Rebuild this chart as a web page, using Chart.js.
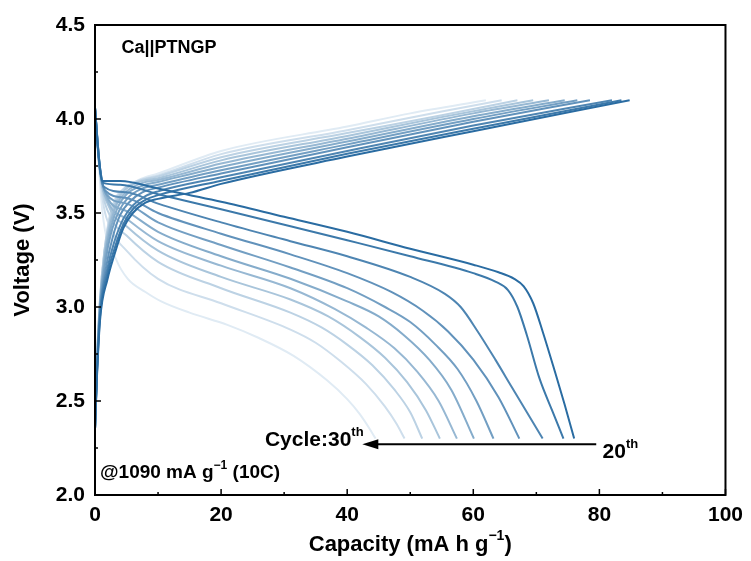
<!DOCTYPE html>
<html><head><meta charset="utf-8">
<script src="https://cdn.jsdelivr.net/npm/chart.js@4/dist/chart.umd.min.js"></script>
<style>html,body{margin:0;padding:0;background:#fff}</style>
</head><body>
<canvas id="c" width="751" height="561"></canvas>
<script>
// ---- data ----
const cycles = ['20th','21st','22nd','23rd','24th','25th','26th','27th','28th','29th','30th'];
const xTicks = [0, 20, 40, 60, 80, 100];
const yTicks = [2.0, 2.5, 3.0, 3.5, 4.0, 4.5];

// charge curves [capacity, voltage]
const chg20 = [[0,2.35],[0.3,2.62],[0.8,2.93],[2,3.15],[3,3.27],[4.5,3.42],[6,3.50],[8,3.555],[10,3.575],[15,3.607],[20,3.655],[40,3.80],[60,3.935],[84.8,4.10]];
const chg21 = [[0,2.35],[0.3,2.63],[0.8,2.95],[2,3.18],[3,3.30],[4.5,3.44],[6,3.52],[8,3.57],[10,3.595],[20,3.672],[40,3.815],[60,3.948],[83.5,4.10]];
const chg22 = [[0,2.35],[0.3,2.64],[0.8,2.97],[2,3.21],[3,3.34],[4.5,3.47],[6,3.54],[8,3.59],[10,3.615],[20,3.69],[40,3.83],[60,3.965],[82,4.10]];
const chg23 = [[0,2.35],[0.3,2.65],[0.8,2.98],[1.8,3.22],[2.8,3.37],[4,3.49],[5.5,3.56],[7.5,3.61],[10,3.635],[20,3.71],[40,3.85],[60,3.985],[78.5,4.10]];
const chg24 = [[0,2.35],[0.3,2.66],[0.8,3.0],[1.7,3.25],[2.6,3.40],[3.8,3.51],[5.2,3.58],[7.5,3.63],[10,3.65],[20,3.727],[40,3.865],[60,4.0],[76.5,4.10]];
const chg25 = [[0,2.35],[0.3,2.67],[0.8,3.01],[1.6,3.27],[2.5,3.42],[3.6,3.53],[5,3.60],[7.5,3.645],[10,3.665],[20,3.745],[40,3.88],[60,4.015],[74.5,4.10]];
const chg26 = [[0,2.35],[0.3,2.68],[0.8,3.02],[1.6,3.29],[2.5,3.45],[3.5,3.55],[5,3.615],[7.5,3.66],[10,3.675],[20,3.763],[40,3.895],[60,4.03],[72,4.10]];
const chg27 = [[0,2.35],[0.3,2.69],[0.8,3.03],[1.5,3.29],[2.4,3.46],[3.4,3.56],[4.8,3.625],[7,3.665],[10,3.685],[20,3.78],[40,3.91],[55,4.01],[69.5,4.10]];
const chg28 = [[0,2.35],[0.3,2.70],[0.8,3.04],[1.5,3.30],[2.4,3.48],[3.4,3.575],[4.8,3.635],[7,3.67],[10,3.695],[20,3.797],[40,3.925],[55,4.02],[67,4.10]];
const chg29 = [[0,2.35],[0.3,2.71],[0.8,3.05],[1.5,3.30],[2.4,3.49],[3.4,3.585],[4.6,3.63],[7,3.675],[10,3.70],[20,3.813],[40,3.94],[55,4.04],[64.5,4.10]];
const chg30 = [[0,2.35],[0.3,2.72],[0.8,3.05],[1.5,3.30],[2.4,3.50],[3.4,3.59],[4.5,3.62],[7,3.677],[10,3.71],[20,3.83],[40,3.96],[50,4.03],[62,4.10]];

// discharge curves [capacity, voltage]
const dis20 = [[0,4.06],[0.6,3.80],[1.2,3.67],[4,3.67],[10,3.63],[20,3.56],[30,3.48],[40,3.40],[50,3.31],[60,3.225],[64,3.185],[66.5,3.15],[68,3.11],[69.5,3.02],[71,2.87],[73,2.65],[74.5,2.48],[76,2.30]];
const dis21 = [[0,4.06],[0.6,3.79],[1.3,3.66],[4,3.65],[10,3.60],[20,3.52],[31,3.43],[40,3.355],[50,3.27],[60,3.18],[63.5,3.135],[65.5,3.09],[67,3.00],[68.5,2.85],[70.5,2.62],[72.5,2.45],[74.3,2.30]];
const dis22 = [[0,4.06],[0.6,3.78],[1.4,3.64],[5,3.61],[10,3.55],[20,3.45],[31,3.35],[40,3.27],[50,3.16],[55.5,3.07],[58,3.00],[60.7,2.87],[63.5,2.72],[66,2.58],[68.5,2.44],[71,2.30]];
const dis23 = [[0,4.06],[0.7,3.77],[1.6,3.62],[5,3.58],[10,3.50],[20,3.39],[31,3.28],[40,3.18],[47,3.08],[52,2.98],[56,2.87],[60,2.72],[64,2.52],[67.3,2.30]];
const dis24 = [[0,4.06],[0.7,3.76],[1.8,3.60],[5,3.55],[10,3.45],[20,3.33],[31,3.21],[40,3.10],[46,3.00],[50,2.92],[54,2.80],[57.5,2.67],[60.5,2.50],[63.2,2.30]];
const dis25 = [[0,4.06],[0.8,3.74],[2,3.58],[5,3.51],[10,3.40],[20,3.27],[31,3.15],[40,3.03],[45,2.95],[49,2.85],[53,2.72],[56.5,2.56],[60.1,2.30]];
const dis26 = [[0,4.06],[0.8,3.72],[2.2,3.55],[5,3.47],[10,3.35],[20,3.22],[31,3.10],[38,2.99],[43,2.89],[47.5,2.78],[51,2.66],[54.5,2.50],[57.4,2.30]];
const dis27 = [[0,4.06],[0.9,3.70],[2.4,3.52],[5,3.43],[10,3.30],[20,3.16],[31,3.04],[37,2.95],[42,2.84],[46,2.73],[49.5,2.60],[52.5,2.45],[54.7,2.30]];
const dis28 = [[0,4.06],[1,3.66],[2.6,3.47],[5,3.38],[10,3.24],[20,3.10],[31,2.97],[36,2.89],[40,2.80],[44,2.69],[47.5,2.56],[50,2.44],[51.9,2.30]];
const dis29 = [[0,4.06],[1.1,3.60],[2.8,3.40],[5,3.30],[10,3.15],[20,3.02],[31,2.88],[35,2.81],[39,2.71],[43,2.59],[46,2.47],[47.8,2.38],[49.1,2.30]];
const dis30 = [[0,4.06],[1.2,3.50],[3.4,3.25],[5.2,3.15],[8,3.08],[10.5,3.03],[15,2.97],[21,2.905],[26,2.835],[31.5,2.74],[36.8,2.61],[40,2.51],[42,2.43],[43.6,2.35],[44.5,2.30]];

const chargeCurves = [chg20,chg21,chg22,chg23,chg24,chg25,chg26,chg27,chg28,chg29,chg30];
const dischargeCurves = [dis20,dis21,dis22,dis23,dis24,dis25,dis26,dis27,dis28,dis29,dis30];

// ---- styles ----
const FONT = '"Liberation Sans", Arial, Helvetica, sans-serif';
const dark = [42,108,162], light = [224,235,244];
function colorFor(i){
  const t = i/(cycles.length-1);
  const c = dark.map((d,k)=>Math.round(d+(light[k]-d)*t));
  return `rgb(${c[0]},${c[1]},${c[2]})`;
}

const datasets = [];
cycles.forEach((name,i)=>{
  const col = colorFor(i);
  datasets.push({label:name+' charge', data:chargeCurves[i].map(p=>({x:p[0],y:p[1]})),
    borderColor:col, borderWidth:2, pointRadius:0, fill:false, cubicInterpolationMode:'monotone'});
  datasets.push({label:name+' discharge', data:dischargeCurves[i].map(p=>({x:p[0],y:p[1]})),
    borderColor:col, borderWidth:2, pointRadius:0, fill:false, cubicInterpolationMode:'monotone'});
});

function drawRich(ctx, parts, x, y, size, align){
  let w = 0;
  const supSize = Math.round(size*0.62);
  parts.forEach(([t,s])=>{ctx.font = `bold ${s?supSize:size}px ${FONT}`; w += ctx.measureText(t).width;});
  let cx = align==='center' ? x - w/2 : (align==='right' ? x - w : x);
  ctx.textBaseline = 'middle'; ctx.textAlign = 'left';
  parts.forEach(([t,s])=>{
    ctx.font = `bold ${s?supSize:size}px ${FONT}`;
    ctx.fillText(t, cx, s ? y - size*0.38 : y);
    cx += ctx.measureText(t).width;
  });
}

const framePlugin = {
  id:'frame',
  afterDraw(chart){
    const {ctx, chartArea:a, scales:{x, y}} = chart;
    ctx.save();
    ctx.strokeStyle = '#000'; ctx.lineWidth = 2;
    ctx.strokeRect(a.left, a.top, a.right-a.left, a.bottom-a.top);
    ctx.lineWidth = 1.5;
    ctx.beginPath();
    for (let i=0;i<xTicks.length;i++){
      const px = x.getPixelForValue(xTicks[i]);
      ctx.moveTo(px, a.bottom); ctx.lineTo(px, a.bottom-6);
      if (i<xTicks.length-1){
        const pm = x.getPixelForValue((xTicks[i]+xTicks[i+1])/2);
        ctx.moveTo(pm, a.bottom); ctx.lineTo(pm, a.bottom-3);
      }
    }
    for (let i=0;i<yTicks.length;i++){
      const py = y.getPixelForValue(yTicks[i]);
      ctx.moveTo(a.left, py); ctx.lineTo(a.left+6, py);
      if (i<yTicks.length-1){
        const pm = y.getPixelForValue((yTicks[i]+yTicks[i+1])/2);
        ctx.moveTo(a.left, pm); ctx.lineTo(a.left+3, pm);
      }
    }
    ctx.stroke();

    ctx.fillStyle = '#000';
    drawRich(ctx, [['Capacity (mA h g',false],['\u22121',true],[')',false]], (a.left+a.right)/2, 545, 22, 'center');
    ctx.save();
    ctx.translate(23, (a.top+a.bottom)/2);
    ctx.rotate(-Math.PI/2);
    drawRich(ctx, [['Voltage (V)',false]], 0, 0, 22, 'center');
    ctx.restore();

    drawRich(ctx, [['Ca||PTNGP',false]], x.getPixelForValue(4.2), y.getPixelForValue(4.38), 18, 'left');
    drawRich(ctx, [['@1090 mA g',false],['\u22121',true],[' (10C)',false]], x.getPixelForValue(0.8), y.getPixelForValue(2.12), 19, 'left');
    drawRich(ctx, [['Cycle:30',false],['th',true]], x.getPixelForValue(42.6), y.getPixelForValue(2.29), 21, 'right');
    drawRich(ctx, [['20',false],['th',true]], x.getPixelForValue(80.5), y.getPixelForValue(2.225), 21, 'left');

    const ay = y.getPixelForValue(2.27);
    const x0 = x.getPixelForValue(79.5), x1 = x.getPixelForValue(42.4);
    ctx.lineWidth = 2.2;
    ctx.beginPath(); ctx.moveTo(x0, ay); ctx.lineTo(x1+12, ay); ctx.stroke();
    ctx.beginPath(); ctx.moveTo(x1, ay); ctx.lineTo(x1+16, ay-5); ctx.lineTo(x1+16, ay+5); ctx.closePath(); ctx.fill();
    ctx.restore();
  }
};

new Chart(document.getElementById('c'), {
  type:'line',
  data:{datasets},
  options:{
    responsive:false, animation:false, devicePixelRatio:1,
    layout:{padding:{top:25, right:22, left:0, bottom:0}},
    plugins:{legend:{display:false}, tooltip:{enabled:false}},
    scales:{
      x:{type:'linear', min:0, max:100,
        afterBuildTicks:(s)=>{s.ticks = xTicks.map(v=>({value:v}));},
        ticks:{color:'#000', font:{family:FONT, weight:'bold', size:21}, padding:8, maxRotation:0,
          callback:(v)=>String(v)},
        grid:{display:false, drawTicks:false}, border:{display:false},
        afterFit:(s)=>{s.height = 66;}},
      y:{type:'linear', min:2, max:4.5,
        afterBuildTicks:(s)=>{s.ticks = yTicks.map(v=>({value:v}));},
        ticks:{color:'#000', font:{family:FONT, weight:'bold', size:21}, padding:10,
          callback:(v)=>Number(v).toFixed(1)},
        grid:{display:false, drawTicks:false}, border:{display:false},
        afterFit:(s)=>{s.width = 95;}}
    }
  },
  plugins:[framePlugin]
});
</script>
</body></html>
